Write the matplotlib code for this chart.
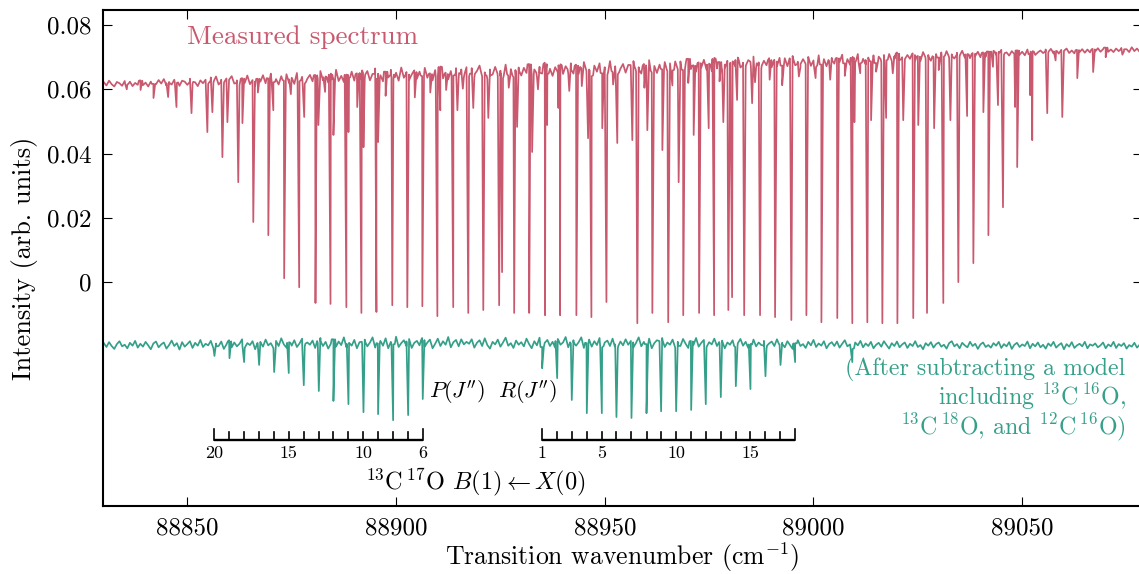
import matplotlib as mpl
import matplotlib.pyplot as plt
import numpy as np

FIG_W, FIG_H = 11.39, 5.74
DPI = 100

PINK = "#C9596F"
TEAL = "#35A08A"

mpl.rcParams.update(
    {
        "font.family": "serif",
        "font.serif": ["cmr10", "DejaVu Serif"],
        "mathtext.fontset": "cm",
        "axes.formatter.use_mathtext": True,
        "font.size": 18,
        "axes.linewidth": 1.5,
        "figure.facecolor": "white",
        "axes.facecolor": "white",
    }
)

# baseline samples (1e-4 units), one every 0.625 cm-1 from 88830 to 89080
BASE_X0, BASE_STEP = 88830.0, 0.625
MEAS_BASE = [
    622, 612, 627, 616, 609, 623, 619, 611, 626, 615, 624, 610, 620, 614, 628, 613, 621, 609, 624, 617,
    616, 629, 618, 632, 612, 623, 615, 630, 620, 611, 627, 624, 614, 633, 617, 622, 610, 628, 619, 630,
    617, 637, 621, 640, 615, 630, 612, 634, 623, 641, 618, 628, 613, 635, 620, 643, 616, 629, 611, 633,
    624, 644, 619, 634, 649, 622, 632, 615, 641, 627, 647, 620, 636, 617, 651, 625, 639, 618, 633, 645,
    625, 645, 633, 657, 628, 640, 621, 649, 631, 661, 626, 642, 623, 646, 635, 655, 627, 650, 630, 659,
    633, 657, 628, 648, 665, 631, 644, 625, 655, 637, 661, 634, 652, 627, 668, 636, 654, 629, 646, 659,
    633, 655, 641, 667, 636, 650, 628, 660, 639, 671, 634, 652, 631, 657, 643, 666, 637, 662, 638, 669,
    640, 666, 637, 657, 674, 641, 653, 632, 662, 646, 670, 639, 658, 634, 677, 643, 663, 638, 655, 668,
    643, 667, 651, 679, 646, 662, 640, 670, 649, 683, 647, 664, 642, 669, 653, 678, 648, 672, 650, 681,
    649, 677, 648, 666, 685, 652, 662, 641, 674, 655, 681, 650, 669, 645, 688, 654, 672, 647, 664, 679,
    652, 676, 660, 688, 655, 669, 649, 679, 658, 691, 653, 673, 651, 677, 662, 685, 656, 681, 659, 687,
    662, 687, 660, 679, 695, 663, 675, 655, 684, 668, 692, 661, 680, 657, 698, 665, 685, 660, 677, 689,
    666, 687, 672, 699, 668, 683, 663, 691, 671, 702, 667, 684, 664, 689, 675, 697, 669, 692, 672, 698,
    674, 697, 672, 689, 704, 675, 686, 668, 694, 679, 701, 673, 690, 670, 706, 677, 694, 672, 687, 698,
    680, 698, 685, 708, 681, 694, 677, 701, 684, 710, 681, 695, 678, 699, 687, 706, 682, 702, 685, 707,
    690, 710, 689, 703, 715, 691, 700, 686, 707, 695, 712, 690, 704, 688, 716, 693, 707, 689, 701, 710,
    699, 715, 702, 719, 698, 709, 696, 714, 701, 720, 699, 710, 697, 713, 704, 717, 700, 715, 702, 718,
    707, 720, 708, 717, 723, 707, 715, 705, 719, 710, 722, 708, 717, 706, 724, 709, 719, 707, 715, 721,
    713, 724, 715, 726, 712, 720, 711, 723, 714, 727, 713, 721, 712, 723, 716, 725, 714, 724, 715, 726,
    718, 728, 717, 725, 730, 717, 724, 716, 727, 719, 729, 718, 725, 716, 731, 719, 727, 717, 724, 729,
    728,
]
RESID_BASE = [
    -190, -202, -187, -199, -208, -193, -184, -200, -195, -206, -189, -198, -183, -204, -192, -201, -186, -197, -209, -191,
    -185, -203, -194, -188, -207, -196, -182, -199, -190, -210, -187, -201, -193, -184, -205, -189, -198, -180, -202, -192,
    -197, -183, -206, -191, -199, -185, -208, -194, -181, -203, -188, -200, -192, -178, -205, -190, -196, -184, -209, -193,
    -186, -201, -179, -197, -190, -206, -183, -199, -175, -194, -204, -187, -198, -181, -202, -191, -176, -200, -188, -195,
    -182, -205, -190, -174, -199, -186, -207, -192, -178, -201, -185, -196, -172, -203, -189, -198, -180, -206, -187, -193,
    -179, -200, -188, -172, -204, -191, -183, -198, -175, -206, -186, -194, -170, -202, -190, -181, -199, -177, -205, -189,
    -183, -197, -174, -201, -188, -179, -206, -192, -176, -199, -184, -195, -171, -203, -187, -180, -200, -178, -194, -186,
    -192, -178, -204, -189, -181, -199, -175, -196, -207, -186, -194, -179, -201, -188, -173, -198, -190, -205, -182, -195,
    -187, -200, -176, -193, -206, -184, -197, -173, -202, -189, -180, -199, -186, -204, -177, -195, -188, -171, -203, -191,
    -181, -198, -187, -172, -205, -190, -179, -201, -184, -196, -174, -203, -188, -182, -199, -176, -194, -207, -185, -197,
    -178, -195, -183, -203, -189, -172, -200, -186, -193, -176, -206, -190, -181, -198, -174, -202, -188, -195, -179, -204,
    -186, -199, -177, -192, -205, -183, -196, -174, -201, -189, -180, -203, -187, -194, -176, -199, -191, -182, -206, -188,
    -195, -181, -202, -190, -177, -198, -186, -205, -192, -179, -200, -188, -196, -183, -207, -191, -185, -199, -178, -194,
    -189, -203, -184, -196, -208, -190, -181, -199, -193, -205, -186, -197, -180, -202, -191, -198, -184, -206, -193, -187,
    -199, -185, -204, -192, -181, -200, -194, -208, -188, -197, -183, -203, -191, -199, -186, -206, -195, -189, -201, -184,
    -196, -207, -190, -199, -185, -203, -194, -188, -205, -192, -199, -184, -202, -196, -209, -190, -198, -187, -204, -193,
    -188, -201, -195, -207, -190, -184, -200, -193, -206, -189, -197, -203, -186, -199, -192, -208, -194, -188, -202, -196,
    -204, -190, -198, -186, -205, -193, -200, -187, -208, -195, -189, -202, -194, -199, -185, -206, -192, -200, -188, -203,
    -195, -207, -191, -199, -186, -204, -196, -190, -209, -193, -201, -187, -205, -197, -192, -200, -186, -206, -194, -198,
    -191, -203, -197, -188, -206, -194, -200, -186, -205, -193, -199, -190, -207, -196, -201, -189, -204, -195, -198, -192,
    -197,
]

# strong absorption lines in the measured spectrum
STRONG_X = [
    88854.8, 88858.4, 88862.2, 88865.8, 88869.4, 88873.2, 88876.8, 88880.7, 88884.3, 88888.1,
    88891.7, 88895.3, 88899.1, 88902.7, 88906.3, 88909.9, 88913.7, 88917.3, 88920.9, 88924.7,
    88928.3, 88931.9, 88935.7, 88939.3, 88943.2, 88946.8, 88950.4, 88957.8, 88961.4, 88965.2,
    88968.8, 88972.6, 88976.2, 88979.6, 88983.4, 88987.2, 88990.8, 88994.7, 88998.3, 89001.9,
    89005.7, 89009.3, 89012.9, 89016.5, 89020.1, 89023.9, 89027.2, 89031.1, 89034.7, 89038.3,
    89041.9, 89045.4, 89048.8, 89052.4, 89056.0, 89059.6, 89063.2, 89067.0,
]
STRONG_Y = [
    0.0467, 0.0389, 0.0311, 0.0187, 0.0146, 0.0012, -0.0016, -0.0065, -0.0068, -0.0078,
    -0.0096, -0.0093, -0.0072, -0.0078, -0.0075, -0.0106, -0.0078, -0.0096, -0.0087, -0.0072,
    -0.0096, -0.0096, -0.0103, -0.0103, -0.0103, -0.0109, -0.0062, -0.0128, -0.0096, -0.0125,
    -0.0103, -0.0096, -0.0103, -0.0087, -0.0103, -0.0103, -0.0109, -0.0118, -0.0103, -0.0125,
    -0.0112, -0.0128, -0.0125, -0.0128, -0.0128, -0.0112, -0.0096, -0.0065, 0.0, 0.0059,
    0.0146, 0.0233, 0.0358, 0.0442, 0.0526, 0.0514, 0.0635, 0.0654,
]

# medium and weak lines in the measured spectrum
WEAK_X = [
    88841.9, 88845.4, 88847.4, 88851.0, 88856.0, 88859.6, 88863.2, 88870.6, 88878.0, 88881.4,
    88885.0, 88888.6, 88890.7, 88892.2, 88895.7, 88899.3, 88910.6, 88914.7, 88918.5, 88922.1,
    88925.4, 88929.0, 88932.6, 88936.2, 88938.9, 88946.0, 88949.4, 88953.0, 88956.6, 88960.2,
    88963.8, 88967.7, 88971.3, 88974.9, 88978.4, 88980.5, 88981.7, 88985.3, 88992.5, 89009.8,
    89013.8, 89017.4, 89021.5, 89025.1, 89028.9, 89032.8, 89036.8, 89040.7, 89044.2, 89048.3,
    89051.9,
    88835.5, 88838.8, 88866.9, 88874.8, 88883.0, 88897.5, 88904.5, 88908.2, 88912.0, 88916.0,
    88927.0, 88934.0, 88941.5, 88944.5, 88952.0, 88959.5, 88966.2, 88970.0, 88977.5, 88986.0,
    88989.5, 88996.5, 89000.5, 89004.0, 89007.5, 89011.2, 89015.0, 89019.0, 89030.0, 89043.0,
    89058.0, 89070.0, 89074.0,
]
WEAK_Y = [
    0.0573, 0.0576, 0.0545, 0.0526, 0.0529, 0.0498, 0.0495, 0.0535, 0.0514, 0.0489,
    0.0458, 0.0467, 0.0545, 0.0420, 0.0436, 0.0436, 0.0535, 0.0535, 0.0542, 0.0511,
    0.0031, 0.0483, 0.0405, 0.0489, 0.0542, 0.0448, 0.0479, 0.0433, 0.0442, 0.0473,
    0.0411, 0.0311, 0.0458, 0.0479, 0.0498, -0.0047, 0.0567, 0.0557, 0.0613, 0.0498,
    0.0504, 0.0511, 0.0504, 0.0489, 0.0479, 0.0504, 0.0517, 0.0529, 0.0551, 0.0545,
    0.0582,
    0.0600, 0.0598, 0.0590, 0.0585, 0.0592, 0.0580, 0.0575, 0.0590, 0.0598, 0.0602,
    0.0605, 0.0600, 0.0595, 0.0610, 0.0615, 0.0605, 0.0612, 0.0620, 0.0625, 0.0622,
    0.0630, 0.0640, 0.0635, 0.0630, 0.0642, 0.0650, 0.0655, 0.0650, 0.0660, 0.0670,
    0.0690, 0.0700, 0.0708,
]

# 13C17O comb positions and residual line depths
P_J = [20, 19, 18, 17, 16, 15, 14, 13, 12, 11, 10, 9, 8, 7, 6]
P_X = [88856.5, 88860.1, 88863.6, 88867.2, 88870.8, 88874.3, 88877.9, 88881.5, 88885.0, 88888.6,
       88892.2, 88895.7, 88899.3, 88902.9, 88906.4]
P_Y = [-0.0230, -0.0237, -0.0249, -0.0258, -0.0280, -0.0283, -0.0321, -0.0339, -0.0370, -0.0380,
       -0.0405, -0.0411, -0.0430, -0.0414, -0.0364]
R_J = [1, 2, 3, 4, 5, 6, 7, 8, 9, 10, 11, 12, 13, 14, 15, 16, 17, 18]
R_X = [88935.0, 88938.6, 88942.1, 88945.7, 88949.3, 88952.8, 88956.4, 88960.0, 88963.5, 88967.1,
       88970.7, 88974.2, 88977.8, 88981.4, 88984.9, 88988.5, 88992.1, 88995.6]
R_Y = [-0.0268, -0.0299, -0.0367, -0.0408, -0.0408, -0.0420, -0.0423, -0.0408, -0.0402, -0.0402,
       -0.0398, -0.0380, -0.0358, -0.0324, -0.0333, -0.0293, -0.0258, -0.0249]
EXTRA_X = [89009.3]
EXTRA_Y = [-0.0249]

X_TICKS = [88850, 88900, 88950, 89000, 89050]
Y_TICKS = [0, 0.02, 0.04, 0.06, 0.08]
Y_TICK_LABELS = ["0", "0.02", "0.04", "0.06", "0.08"]

LINE_HW = 0.4


def build_trace(base, lines_x, lines_y):
    bx = BASE_X0 + BASE_STEP * np.arange(len(base))
    by = np.asarray(base) * 1e-4
    xs = list(bx)
    ys = list(by)
    for c, d in zip(lines_x, lines_y):
        b = np.interp(c, bx, by)
        xs += [c - LINE_HW, c, c + LINE_HW]
        ys += [b, d, b]
    xs = np.asarray(xs)
    ys = np.asarray(ys)
    order = np.argsort(xs, kind="stable")
    return xs[order], ys[order]


def draw_comb(ax, xs, js, labels, y0=-0.0493, y_in=-0.0466, y_end=-0.0457, y_lab=-0.0532):
    ax.plot([xs[0], xs[-1]], [y0, y0], color="black", lw=1.7, solid_capstyle="butt")
    for i, x in enumerate(xs):
        top = y_end if i in (0, len(xs) - 1) else y_in
        ax.plot([x, x], [y0, top], color="black", lw=1.2)
    for x, j in zip(xs, js):
        if j in labels:
            ax.text(x, y_lab, str(j), ha="center", va="center", fontsize=13)


def main():
    fig = plt.figure(figsize=(FIG_W, FIG_H), dpi=DPI)
    ax = fig.add_axes([103 / 1139, 68 / 574, 1039 / 1139, 496 / 574])

    mx, my = build_trace(MEAS_BASE, STRONG_X + WEAK_X, STRONG_Y + WEAK_Y)
    rx, ry = build_trace(RESID_BASE, P_X + R_X + EXTRA_X, P_Y + R_Y + EXTRA_Y)
    ax.plot(mx, my, color=PINK, lw=1.25)
    ax.plot(rx, ry, color=TEAL, lw=1.25)

    draw_comb(ax, P_X, P_J, [20, 15, 10, 6])
    draw_comb(ax, R_X, R_J, [1, 5, 10, 15])

    ax.text(88850.0, 0.0763, "Measured spectrum", color=PINK, ha="left", va="center", fontsize=19.5)
    ax.text(88923.3, -0.0342, r"$P(J^{\prime\prime})\ \ R(J^{\prime\prime})$", ha="center", va="center",
            fontsize=16)
    ax.text(88919.0, -0.0623, r"$^{13}$C$\,^{17}$O $B(1) \leftarrow X(0)$", ha="center", va="center",
            fontsize=17.5)
    ax.text(89074.8, -0.0367,
            "(After subtracting a model\n"
            r"including $^{13}$C$\,^{16}$O," "\n"
            r"$^{13}$C$\,^{18}$O, and $^{12}$C$\,^{16}$O)",
            color=TEAL, ha="right", va="center", multialignment="right", linespacing=1.0,
            fontsize=17.2)

    ax.set_xlim(88829.8, 89078.7)
    ax.set_ylim(-0.0697, 0.0847)
    ax.set_xticks(X_TICKS)
    ax.set_xticklabels([str(t) for t in X_TICKS])
    ax.set_yticks(Y_TICKS)
    ax.set_yticklabels(Y_TICK_LABELS)
    ax.tick_params(direction="in", length=6.5, width=0.8, top=True, right=True, pad=8)
    ax.set_xlabel(r"Transition wavenumber (cm$^{-1}$)", labelpad=1, fontsize=18.5)
    ax.set_ylabel("Intensity (arb. units)", labelpad=7, fontsize=19)

    fig.savefig("out.png", dpi=DPI, facecolor="white")
    plt.close(fig)


if __name__ == "__main__":
    main()
